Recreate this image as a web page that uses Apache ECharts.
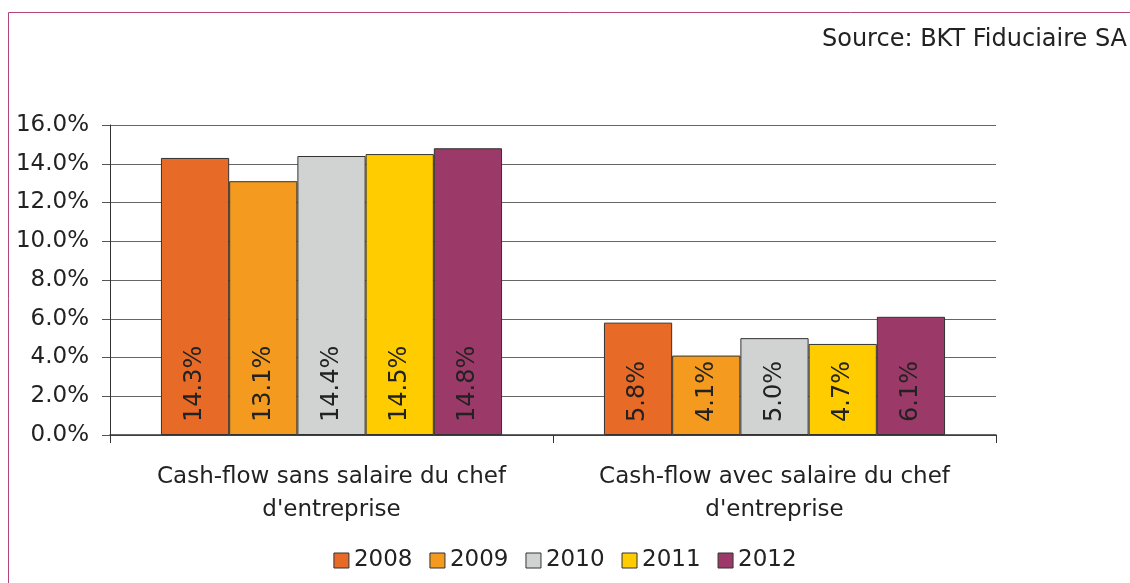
<!DOCTYPE html>
<html>
<head>
<meta charset="utf-8">
<script src="https://cdn.jsdelivr.net/npm/echarts@6/dist/echarts.min.js"></script>
<style>
  html, body { margin: 0; padding: 0; background: #fff; }
  #main { width: 1130px; height: 583px; }
</style>
</head>
<body>
<div id="main"></div>
<script>
// categories and values (percent)
var categories = ['Cash-flow sans salaire du chef\nd\'entreprise', 'Cash-flow avec salaire du chef\nd\'entreprise'];
var years = ['2008', '2009', '2010', '2011', '2012'];
var colors = ['#E86A27', '#F39A1F', '#D1D3D2', '#FFCC00', '#9B3A68'];
var v2008 = [14.3, 5.8];
var v2009 = [13.1, 4.1];
var v2010 = [14.4, 5.0];
var v2011 = [14.5, 4.7];
var v2012 = [14.8, 6.1];
var values = [v2008, v2009, v2010, v2011, v2012];

var font = '"DejaVu Sans", Verdana, sans-serif';
var chart = echarts.init(document.getElementById('main'));

var series = years.map(function (y, i) {
  return {
    name: y,
    type: 'bar',
    barGap: '0%',
    barCategoryGap: '23%',
    data: values[i],
    itemStyle: { color: colors[i], borderColor: '#333', borderWidth: 1 },
    label: {
      show: true,
      position: 'insideBottom',
      rotate: 90,
      align: 'left',
      verticalAlign: 'middle',
      distance: 13,
      fontFamily: font,
      fontSize: 24,
      color: '#222',
      formatter: function (p) { return p.value.toFixed(1) + '%'; }
    }
  };
});

chart.setOption({
  animation: false,
  textStyle: { fontFamily: font },
  graphic: [{
    type: 'rect',
    shape: { x: 8.5, y: 12.5, width: 1200, height: 700 },
    style: { fill: 'none', stroke: '#B0457E', lineWidth: 1 },
    silent: true
  }, {
    type: 'text',
    right: 3,
    top: 28,
    style: { text: 'Source: BKT Fiduciaire SA', font: '24px ' + font, fill: '#222' }
  }],
  grid: { left: 110, right: 134, top: 125, bottom: 148 },
  legend: {
    bottom: 6,
    left: 'center',
    itemWidth: 15,
    itemHeight: 15,
    itemGap: 17,
    icon: 'rect',
    itemStyle: { borderColor: '#333', borderWidth: 1 },
    textStyle: { fontFamily: font, fontSize: 23, color: '#222' },
    data: years
  },
  xAxis: {
    type: 'category',
    data: categories,
    axisLine: { lineStyle: { color: '#333', width: 1.5 } },
    axisTick: { show: true, length: 8, lineStyle: { color: '#333' } },
    axisLabel: { interval: 0, fontFamily: font, fontSize: 23, color: '#222', lineHeight: 33, margin: 26 }
  },
  yAxis: {
    type: 'value',
    min: 0,
    max: 16,
    interval: 2,
    axisLine: { show: true, lineStyle: { color: '#333' } },
    axisTick: { show: true, length: 8, lineStyle: { color: '#555' } },
    splitLine: { lineStyle: { color: '#666' } },
    axisLabel: {
      fontFamily: font, fontSize: 23, color: '#222', margin: 21,
      formatter: function (v) { return v.toFixed(1) + '%'; }
    }
  },
  series: series
});
</script>
</body>
</html>
